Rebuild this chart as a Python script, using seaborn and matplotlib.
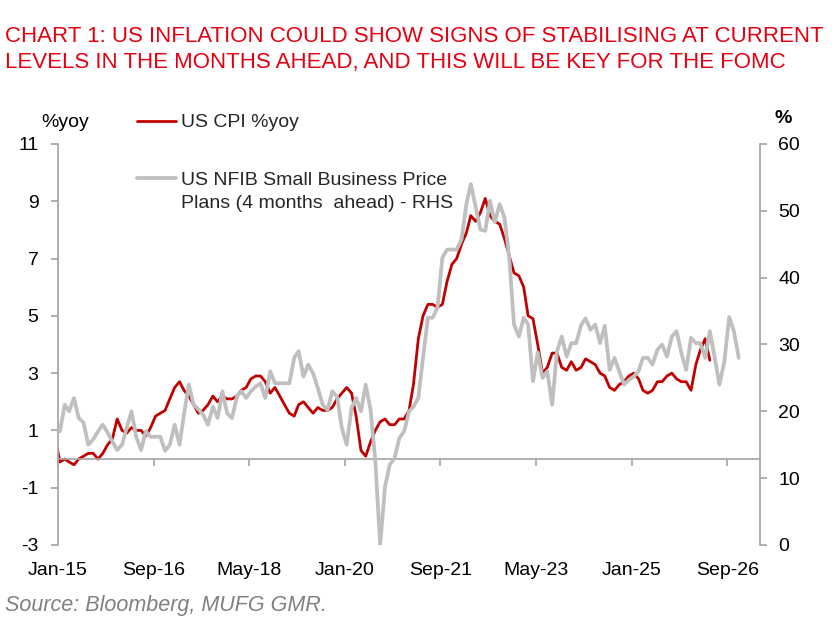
import matplotlib
matplotlib.use("Agg")
import matplotlib.pyplot as plt
import matplotlib.dates as mdates
from matplotlib.lines import Line2D
import pandas as pd
import seaborn as sns

# US CPI %yoy, monthly from Dec-14
cpi_yoy = [
    0.8,
    -0.1, 0.0, -0.1, -0.2, 0.0, 0.1, 0.2, 0.2, 0.0, 0.2, 0.5, 0.7,
    1.4, 1.0, 0.9, 1.1, 1.0, 1.0, 0.8, 1.1, 1.5, 1.6, 1.7, 2.1,
    2.5, 2.7, 2.4, 2.2, 1.9, 1.6, 1.7, 1.9, 2.2, 2.0, 2.2, 2.1,
    2.1, 2.2, 2.4, 2.5, 2.8, 2.9, 2.9, 2.7, 2.3, 2.5, 2.2, 1.9,
    1.6, 1.5, 1.9, 2.0, 1.8, 1.6, 1.8, 1.7, 1.7, 1.8, 2.1, 2.3,
    2.5, 2.3, 1.5, 0.3, 0.1, 0.6, 1.0, 1.3, 1.4, 1.2, 1.2, 1.4,
    1.4, 1.7, 2.6, 4.2, 5.0, 5.4, 5.4, 5.3, 5.4, 6.2, 6.8, 7.0,
    7.5, 7.9, 8.5, 8.3, 8.6, 9.1, 8.5, 8.3, 8.2, 7.7, 7.1, 6.5,
    6.4, 6.0, 5.0, 4.9, 4.0, 3.0, 3.2, 3.7, 3.7, 3.2, 3.1, 3.4,
    3.1, 3.2, 3.5, 3.4, 3.3, 3.0, 2.9, 2.5, 2.4, 2.6, 2.7, 2.9,
    3.0, 2.8, 2.4, 2.3, 2.4, 2.7, 2.7, 2.9, 3.0, 2.8, 2.7, 2.7,
    2.4, 3.3, 3.8, 4.2, 3.45,
]

# NFIB price plans (%), shifted 4 months ahead, monthly from Jan-15
nfib_price_plans = [
    17, 21, 20, 22, 19, 18.3, 15, 15.8, 17, 18,
    16.8, 15.5, 14.2, 15, 17.5, 20, 16.2, 14.2, 17, 16.2,
    16.2, 16.2, 14.1, 15, 18, 15, 19.5, 24, 21, 20.3,
    19.5, 18, 20.7, 19, 23, 19.7, 19, 22.2, 23, 22,
    23, 23.7, 24.2, 22, 26, 24.2, 24.2, 24.2, 24.2, 28,
    29, 25.2, 27, 25.7, 23.5, 21, 20.2, 23, 22.2, 17.5,
    15, 20.5, 22, 20, 24, 20.2, 12.7, 0, 8.7, 12,
    13, 16, 17, 20, 20.7, 22, 28, 34, 34, 35.5,
    43, 44.2, 44.2, 44.2, 45.7, 51, 54, 50.6, 47.2, 47,
    51.5, 48.3, 51, 49, 43, 33, 31.2, 34, 33, 24.5,
    28.8, 25, 26, 21, 29, 31.2, 28.2, 30.2, 30.2, 32.9,
    33.9, 32.2, 33, 30.2, 32.8, 26.2, 28, 26, 24, 24.7,
    25.2, 26, 28, 28, 27, 29.2, 30, 28.2, 31.2, 32,
    28.7, 26.2, 31, 30.2, 30.2, 28, 32, 28, 24, 27.4,
    34.1, 32, 28,
]

tick_labels = ["Jan-15", "Sep-16", "May-18", "Jan-20", "Sep-21", "May-23", "Jan-25", "Sep-26"]
tick_dates = pd.to_datetime(["2015-01-01", "2016-09-01", "2018-05-01", "2020-01-01",
                             "2021-09-01", "2023-05-01", "2025-01-01", "2026-09-01"])

RED = "#C00000"
GREY = "#BFBFBF"
AXIS_GREY = "#A6A6A6"

cpi_df = pd.DataFrame({
    "date": pd.date_range("2014-12-01", periods=len(cpi_yoy), freq="MS") + pd.Timedelta(days=12),
    "value": cpi_yoy,
})
nfib_df = pd.DataFrame({
    "date": pd.date_range("2015-01-01", periods=len(nfib_price_plans), freq="MS") + pd.Timedelta(days=12),
    "value": nfib_price_plans,
})

sns.set_theme(style="white")
plt.rcParams["font.family"] = ["Liberation Sans", "DejaVu Sans"]
plt.rcParams["axes.unicode_minus"] = False

fig = plt.figure(figsize=(8.39, 6.22), dpi=100)
ax = fig.add_axes([0.0691, 0.1238, 0.8367, 0.6447])
ax2 = ax.twinx()

sns.lineplot(data=cpi_df, x="date", y="value", ax=ax, color=RED, linewidth=2.0, legend=False)
sns.lineplot(data=nfib_df, x="date", y="value", ax=ax2, color=GREY, linewidth=2.7, legend=False)

ax.set_xlim(pd.Timestamp("2015-01-01"), pd.Timestamp("2027-03-28"))
ax.set_ylim(-3, 11)
ax.set_yticks(range(-3, 12, 2))
ax2.set_ylim(0, 60)
ax2.set_yticks(range(0, 61, 10))
ax.set_xlabel("")
ax.set_ylabel("")
ax2.set_ylabel("")

# spines
for s in ["top", "right"]:
    ax.spines[s].set_visible(False)
for s in ["top", "left", "bottom"]:
    ax2.spines[s].set_visible(False)
ax.spines["left"].set_color(AXIS_GREY)
ax.spines["bottom"].set_color(AXIS_GREY)
ax.spines["bottom"].set_position(("data", 0))
ax2.spines["right"].set_color(AXIS_GREY)

ax.set_xticks(tick_dates)
ax.tick_params(axis="x", which="both", direction="out", length=5, color=AXIS_GREY,
               bottom=True, labelbottom=False)
ax.tick_params(axis="y", direction="out", length=5, color=AXIS_GREY, left=True,
               pad=9, labelsize=14, labelcolor="black")
ax2.tick_params(axis="y", direction="out", length=5, color=AXIS_GREY, right=True,
                pad=8, labelsize=14, labelcolor="black")

# date labels sit at the bottom of the plot, not at the zero line
sec = ax.secondary_xaxis(0.0)
sec.set_xticks(mdates.date2num(tick_dates))
sec.set_xticklabels(tick_labels)
sec.spines["bottom"].set_visible(False)
sec.tick_params(axis="x", length=0, pad=12, labelsize=14, labelcolor="black")

# axis unit labels
fig.text(0.078, 0.803, "%yoy", fontsize=14, ha="center", va="center", color="black")
fig.text(0.933, 0.81, "%", fontsize=14, ha="center", va="center", color="black", fontweight="bold")

# legends: marker sits level with the first line of each label
leg1 = fig.legend([ax.lines[0]], ["US CPI %yoy"], loc="upper left",
                  bbox_to_anchor=(0.163, 0.817), frameon=False, fontsize=14,
                  handlelength=2.0, handletextpad=0.25, borderpad=0, borderaxespad=0)
blank = Line2D([], [], color="none")
fig.legend([ax2.lines[0], blank],
           ["US NFIB Small Business Price", "Plans (4 months  ahead) - RHS"],
           loc="upper left", bbox_to_anchor=(0.163, 0.725), frameon=False, fontsize=14,
           handlelength=2.0, handletextpad=0.25, labelspacing=0.3,
           borderpad=0, borderaxespad=0)

# title and source
fig.text(0.006, 0.941, "CHART 1: US INFLATION COULD SHOW SIGNS OF STABILISING AT CURRENT",
         fontsize=16, color="#E60012", ha="left", va="center")
fig.text(0.006, 0.899, "LEVELS IN THE MONTHS AHEAD, AND THIS WILL BE KEY FOR THE FOMC",
         fontsize=16, color="#E60012", ha="left", va="center")
fig.text(0.006, 0.026, "Source: Bloomberg, MUFG GMR.", fontsize=15.5, color="#808080",
         style="italic", ha="left", va="center")

fig.savefig("out.png", dpi=100)
